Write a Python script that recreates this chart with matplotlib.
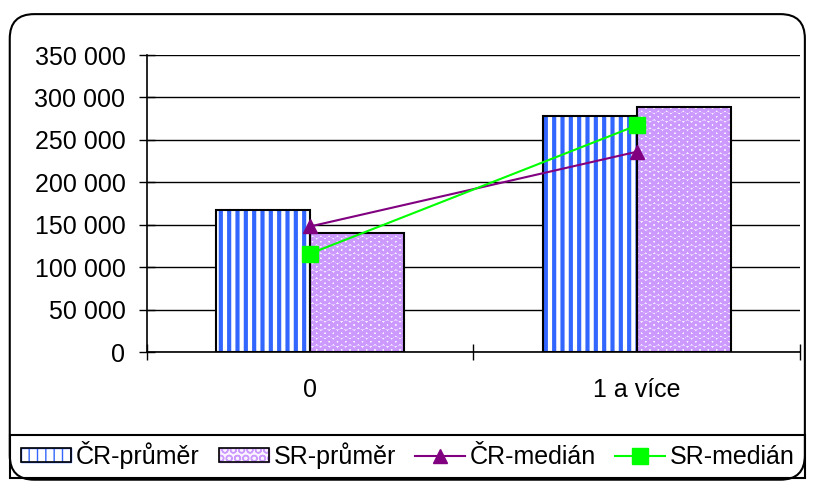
import matplotlib
matplotlib.use("Agg")
import matplotlib.pyplot as plt
from matplotlib.patches import FancyBboxPatch, Patch, Rectangle
from matplotlib.lines import Line2D
from matplotlib.legend_handler import HandlerTuple
from matplotlib.ticker import FuncFormatter
import numpy as np

categories = ["0", "1 a více"]
cr_prumer = [167000, 278000]
sr_prumer = [140000, 289000]
cr_median = [148000, 236000]
sr_median = [116000, 267000]
yticks = [0, 50000, 100000, 150000, 200000, 250000, 300000, 350000]
labels = ["ČR-průměr", "SR-průměr", "ČR-medián", "SR-medián"]

plt.rcParams['font.family'] = ['Liberation Sans', 'DejaVu Sans']

FS = 18
fig = plt.figure(figsize=(8.13, 4.87), dpi=100)
fig.patch.set_facecolor('white')

# outer rounded frame
frame = FancyBboxPatch((0.012, 0.015), 0.978, 0.956, boxstyle="round,pad=0,rounding_size=0.03",
                       transform=fig.transFigure, facecolor='none', edgecolor='black',
                       linewidth=1.5, zorder=-5, mutation_aspect=813/487)
fig.patches.append(frame)
# legend box
legbox = Rectangle((0.012, 0.0185), 0.978, 0.088, transform=fig.transFigure,
                   facecolor='none', edgecolor='black', linewidth=1.5, zorder=-5)
fig.patches.append(legbox)

ax = fig.add_axes([0.1808, 0.2772, 0.8032, 0.6098])
ax.set_facecolor('none')
x = np.arange(len(categories))
w = 0.288

blue = '#3366FF'
purple = '#CC99FF'
sr_face = '#FAF4FF'
SR_HLW = 2.2

def hatched(patches, lw):
    for p in patches:
        p.set_hatch_linewidth(lw)

# ČR bars: blue vertical stripes
b1 = ax.bar(x - w/2, cr_prumer, w, color='white', edgecolor=blue, hatch='||', linewidth=0, zorder=2)
hatched(b1, 3.0)
ax.bar(x - w/2, cr_prumer, w, fill=False, edgecolor='black', linewidth=1.5, zorder=3)
# SR bars: lavender dotted pattern
b2 = ax.bar(x + w/2, sr_prumer, w, color=sr_face, edgecolor=purple, hatch='OO', linewidth=0, zorder=2)
hatched(b2, SR_HLW)
ax.bar(x + w/2, sr_prumer, w, fill=False, edgecolor='black', linewidth=1.5, zorder=3)

ax.plot(x, cr_median, color='#800080', marker='^', markersize=10, linewidth=1.5, zorder=4)
ax.plot(x, sr_median, color='#00FF00', marker='s', markersize=12, linewidth=1.5, zorder=5)

ax.set_xlim(-0.5, 1.5)
ax.set_ylim(0, 350000)
ax.set_yticks(yticks)
ax.yaxis.set_major_formatter(FuncFormatter(lambda v, p: f"{int(v):,}".replace(",", " ")))
ax.yaxis.grid(True, color='black', linewidth=1.0, zorder=1)
ax.set_axisbelow(True)
ax.tick_params(axis='y', direction='inout', length=11, width=1, labelsize=FS, pad=10)

ax.set_xticks([-0.5, 0.5, 1.5])
ax.set_xticklabels([])
ax.tick_params(axis='x', which='major', direction='inout', length=11, width=1)
ax.set_xticks(x, minor=True)
ax.set_xticklabels(categories, minor=True)
ax.tick_params(axis='x', which='minor', length=0, labelsize=FS, pad=19)

for s in ['top', 'right']:
    ax.spines[s].set_visible(False)
ax.spines['left'].set_linewidth(1.2)
ax.spines['bottom'].set_linewidth(1.2)

h1 = Patch(facecolor='white', edgecolor=blue, hatch='||')
h1.set_hatch_linewidth(3.0)
h2 = Patch(facecolor=sr_face, edgecolor=purple, hatch='OO')
h2.set_hatch_linewidth(SR_HLW)
border1 = Patch(fill=False, edgecolor='black', linewidth=1.2)
border2 = Patch(fill=False, edgecolor='black', linewidth=1.2)
handles = [
    (h1, border1), (h2, border2),
    Line2D([0], [0], color='#800080', marker='^', markersize=10, linewidth=1.5),
    Line2D([0], [0], color='#00FF00', marker='s', markersize=12, linewidth=1.5),
]
leg = fig.legend(handles=handles, labels=labels, loc='center left', bbox_to_anchor=(0.026, 0.066),
                 ncol=4, fontsize=FS, frameon=False,
                 handler_map={tuple: HandlerTuple(ndivide=1, pad=0)},
                 handlelength=2.0, handleheight=0.45, handletextpad=0.2, columnspacing=0.75,
                 borderaxespad=0, borderpad=0.0)

fig.savefig('out.png', dpi=100)
